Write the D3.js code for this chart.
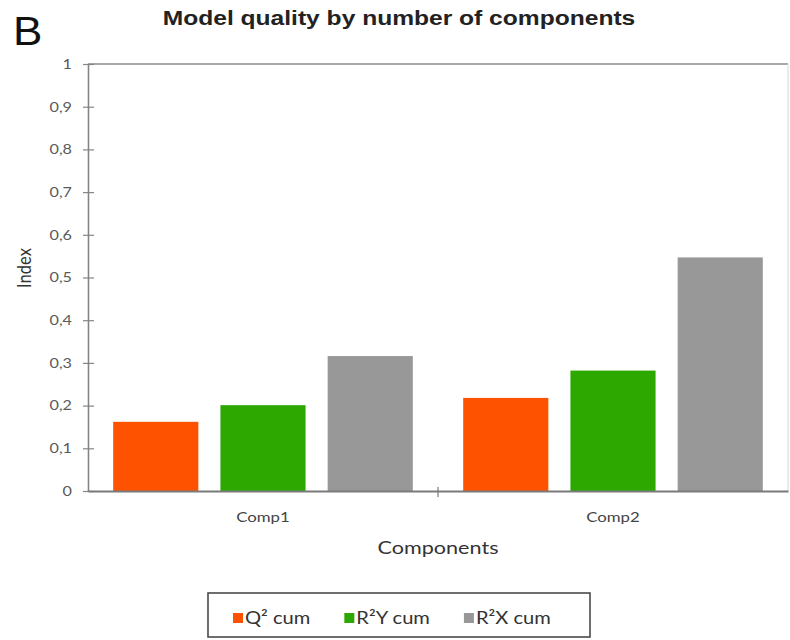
<!DOCTYPE html>
<html>
<head>
<meta charset="utf-8">
<script src="https://cdn.jsdelivr.net/npm/d3@7"></script>
<style>
  html, body { margin: 0; padding: 0; background: #fff; }
  svg { display: block; }
</style>
</head>
<body>
<svg id="chart" width="790" height="640"></svg>
<script>
// Cumulative model quality indices per number of PLS components
const categories = ["Comp1", "Comp2"];
const seriesNames = ["Q² cum", "R²Y cum", "R²X cum"];
const q2Cum = [0.162, 0.218];
const r2yCum = [0.201, 0.282];
const r2xCum = [0.316, 0.547];
const yTicks = [0, 0.1, 0.2, 0.3, 0.4, 0.5, 0.6, 0.7, 0.8, 0.9, 1];
const seriesColors = ["#ff5200", "#2ca800", "#989898"];

const seriesValues = [q2Cum, r2yCum, r2xCum];
const rows = categories.map((c, i) => ({
  category: c,
  values: seriesNames.map((s, j) => ({ series: s, value: seriesValues[j][i] }))
}));

const svg = d3.select("#chart");
const margin = { left: 88, right: 2, top: 64, bottom: 149 };
const W = 790, H = 640;
const SX = 1.2; // horizontal text stretch

const x0 = d3.scaleBand().domain(categories)
  .range([margin.left, W - margin.right]).padding(0);
const x1 = d3.scaleBand().domain(seriesNames)
  .range([0, x0.bandwidth()]).paddingInner(0.206).paddingOuter(0.235);
const y = d3.scaleLinear().domain([0, 1]).range([H - margin.bottom, margin.top]);

const fmt = d3.formatLocale({ decimal: ",", thousands: ".", grouping: [3], currency: ["", ""] }).format("~g");

// Plot frame: top and right borders
svg.append("line")
  .attr("x1", margin.left).attr("x2", W - margin.right)
  .attr("y1", y(1)).attr("y2", y(1))
  .attr("stroke", "#a8a8a8").attr("stroke-width", 2);
svg.append("line")
  .attr("x1", W - margin.right).attr("x2", W - margin.right)
  .attr("y1", y(1)).attr("y2", y(0))
  .attr("stroke", "#d6d6d6").attr("stroke-width", 1);

// Bars
const groups = svg.append("g").selectAll("g").data(rows).join("g")
  .attr("transform", d => `translate(${x0(d.category)},0)`);
groups.selectAll("rect").data(d => d.values).join("rect")
  .attr("x", d => x1(d.series))
  .attr("width", x1.bandwidth())
  .attr("y", d => y(d.value))
  .attr("height", d => y(0) - y(d.value))
  .attr("fill", (d, i) => seriesColors[i]);

// Y axis
const yAxis = svg.append("g")
  .attr("transform", `translate(${margin.left},0)`)
  .call(d3.axisLeft(y).tickValues(yTicks).tickSize(5).tickSizeOuter(0).tickPadding(0)
    .tickFormat(d => fmt(d)));
yAxis.select(".domain").attr("stroke", "#858585").attr("stroke-width", 1.6);
yAxis.selectAll(".tick line").attr("x1", 6).attr("stroke", "#858585").attr("stroke-width", 1.2);
yAxis.selectAll(".tick text")
  .attr("x", -16 / SX)
  .attr("transform", `scale(${SX},1)`)
  .attr("font-family", "Lato, 'Open Sans', sans-serif")
  .attr("font-size", 13.5)
  .attr("fill", "#5a5a5a");

// X axis
const xAxis = svg.append("g")
  .attr("transform", `translate(0,${y(0)})`)
  .call(d3.axisBottom(x0).tickSize(0).tickSizeOuter(0).tickPadding(21));
xAxis.select(".domain").attr("stroke", "#7a7a7a").attr("stroke-width", 2);
xAxis.selectAll(".tick text")
  .attr("transform", `scale(${SX},1)`)
  .attr("font-family", "Lato, 'Open Sans', sans-serif")
  .attr("font-size", 14)
  .attr("fill", "#444");

// Category boundary ticks
const bounds = categories.slice(1).map(c => x0(c));
svg.append("g").selectAll("line").data(bounds).join("line")
  .attr("x1", d => d).attr("x2", d => d)
  .attr("y1", y(0) - 4).attr("y2", y(0) + 6)
  .attr("stroke", "#7a7a7a").attr("stroke-width", 1.2);

// Text helper with horizontal stretch
function stretchedText(x, yPos, txt, opts) {
  return svg.append("text")
    .attr("transform", `translate(${x},${yPos}) scale(${opts.sx || SX},1)`)
    .attr("text-anchor", opts.anchor || "middle")
    .attr("font-family", opts.family)
    .attr("font-size", opts.size)
    .attr("font-weight", opts.weight || "normal")
    .attr("fill", opts.fill || "#222")
    .text(txt);
}

// Panel letter and title
stretchedText(13, 45, "B", { anchor: "start", family: "'Liberation Sans', Arial, sans-serif", size: 40, sx: 1.1, fill: "#111" });
stretchedText(399, 25, "Model quality by number of components",
  { family: "'Liberation Sans', Arial, sans-serif", size: 20.5, weight: "bold", fill: "#222" });

// Axis titles
stretchedText((margin.left + W - margin.right) / 2, 554, "Components",
  { family: "Lato, 'Open Sans', sans-serif", size: 18, fill: "#333" });
svg.append("text")
  .attr("transform", `translate(31,268) rotate(-90) scale(1,${SX})`)
  .attr("text-anchor", "middle")
  .attr("font-family", "Lato, 'Open Sans', sans-serif")
  .attr("font-size", 16.5)
  .attr("fill", "#333")
  .text("Index");

// Legend
const LSX = 1.15;
const legend = svg.append("g");
const box = { x: 208, y: 593, w: 382, h: 44 };
legend.append("rect")
  .attr("x", box.x).attr("y", box.y).attr("width", box.w).attr("height", box.h)
  .attr("fill", "#fff").attr("stroke", "#4a4a4a").attr("stroke-width", 1.6);
const items = legend.selectAll("g.item").data(seriesNames).join("g").attr("class", "item");
items.append("rect").attr("width", 10).attr("height", 10).attr("y", -10)
  .attr("fill", (d, i) => seriesColors[i]);
items.append("text")
  .attr("x", 12 / LSX)
  .attr("transform", `scale(${LSX},1)`)
  .attr("y", 0.5)
  .attr("font-family", "Lato, 'Open Sans', sans-serif")
  .attr("font-size", 17.5)
  .attr("fill", "#333")
  .text(d => d);
const gap = 34;
const textW = [];
items.select("text").each(function () { textW.push(this.getComputedTextLength() * LSX); });
const itemW = textW.map(w => 12 + w);
let cx = box.x + 25;
items.attr("transform", (d, i) => {
  const tx = cx;
  cx += itemW[i] + gap;
  return `translate(${tx},${box.y + 30})`;
});
</script>
</body>
</html>
